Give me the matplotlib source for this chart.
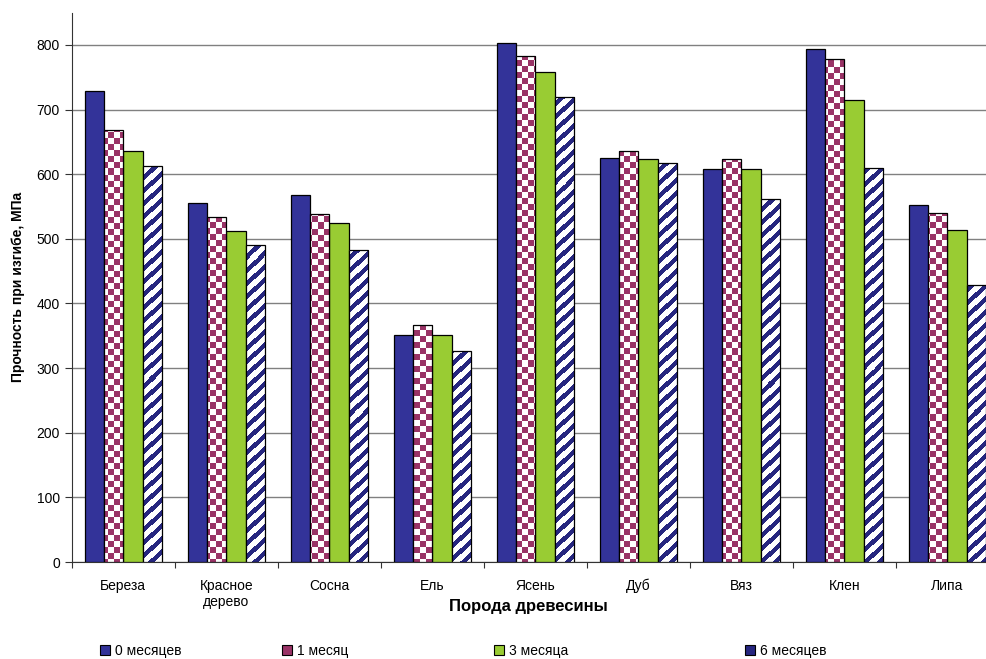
import numpy as np
import matplotlib
matplotlib.use("Agg")
import matplotlib.pyplot as plt
from matplotlib.patches import Patch

plt.rcParams['font.family'] = ['Liberation Sans', 'DejaVu Sans']

categories = ["Береза", "Красное\nдерево", "Сосна", "Ель", "Ясень", "Дуб", "Вяз", "Клен", "Липа"]
series_names = ["0 месяцев", "1 месяц", "3 месяца", "6 месяцев"]
m0 = [729, 555, 568, 351, 803, 625, 608, 794, 552]
m1 = [668, 534, 538, 367, 783, 636, 624, 778, 540]
m3 = [636, 512, 525, 351, 758, 624, 608, 715, 514]
m6 = [613, 490, 483, 326, 719, 617, 562, 610, 429]
series = [m0, m1, m3, m6]

W, H, DPI = 9.87, 6.59, 100
fig = plt.figure(figsize=(W, H), dpi=DPI)
ax_left_px, ax_right_px = 71.7, 71.7 + 9 * 103.0
ax_top_px, ax_bot_px = 12.6, 562.0
ax = fig.add_axes([ax_left_px / 987, 1 - ax_bot_px / 659,
                   (ax_right_px - ax_left_px) / 987, (ax_bot_px - ax_top_px) / 659])

ymax = 850
ax.set_xlim(0, len(categories))
ax.set_ylim(0, ymax)

blue = '#333399'
pink = '#993366'
green = '#99CC33'
navy = '#26267F'

# pattern images in axes pixel space
pw = int(round(ax_right_px - ax_left_px))
ph = int(round(ax_bot_px - ax_top_px))
ii, jj = np.mgrid[0:ph, 0:pw]
checker = (((ii // 6) + (jj // 6)) % 2 == 0)
stripes = (((ii + jj) % 13) < 6)

def pattern_rgba(mask, color):
    rgb = np.array(matplotlib.colors.to_rgb(color))
    img = np.ones((ph, pw, 3))
    img[mask] = rgb
    return img

checker_img = pattern_rgba(checker, pink)
stripe_img = pattern_rgba(stripes, navy)

bw = 0.1875
x = np.arange(len(categories)) + 0.5
offsets = [-1.5, -0.5, 0.5, 1.5]

ax.set_axisbelow(True)
ax.yaxis.grid(True, color='#808080', linewidth=1.0)

for k, vals in enumerate(series):
    if k == 0:
        ax.bar(x + offsets[k] * bw, vals, width=bw, color=blue, edgecolor='black', linewidth=0.9, zorder=3)
    elif k == 2:
        ax.bar(x + offsets[k] * bw, vals, width=bw, color=green, edgecolor='black', linewidth=0.9, zorder=3)
    else:
        img = checker_img if k == 1 else stripe_img
        bars = ax.bar(x + offsets[k] * bw, vals, width=bw, color='white', edgecolor='none', zorder=3)
        for b in bars:
            im = ax.imshow(img, extent=(0, len(categories), 0, ymax), aspect='auto',
                           interpolation='nearest', zorder=3.5)
            im.set_clip_path(b)
        ax.bar(x + offsets[k] * bw, vals, width=bw, color='none', edgecolor='black', linewidth=0.9, zorder=4)

ax.set_xlim(0, len(categories))
ax.set_ylim(0, ymax)

ax.set_yticks(np.arange(0, 801, 100))
ax.set_xticks(np.arange(0, len(categories) + 1), minor=False)
ax.set_xticklabels([])
ax.set_xticks(x, minor=True)
ax.set_xticklabels(categories, minor=True)
ax.tick_params(axis='x', which='minor', length=0, pad=12, labelsize=10)
ax.tick_params(axis='x', which='major', length=4, direction='out', color='#333333')
ax.tick_params(axis='y', length=5, direction='out', labelsize=10, color='#333333')

for s in ['top', 'right']:
    ax.spines[s].set_visible(False)
ax.spines['left'].set_color('#333333')
ax.spines['bottom'].set_color('#333333')

ax.set_ylabel("Прочность при изгибе, МПа", fontsize=10, fontweight='bold', labelpad=8)
fig.text(528 / 987, 1 - 607 / 659, "Порода древесины", fontsize=12, fontweight='bold',
         ha='center', va='center')

handles = [Patch(facecolor=blue, edgecolor='black', linewidth=0.8),
           Patch(facecolor=pink, edgecolor='black', linewidth=0.8),
           Patch(facecolor=green, edgecolor='black', linewidth=0.8),
           Patch(facecolor=navy, edgecolor='black', linewidth=0.8)]
leg_x = [100, 282, 494, 745]
for h, name, lx in zip(handles, series_names, leg_x):
    fig.legend([h], [name], loc='center left', bbox_to_anchor=(lx / 987, 1 - 651 / 659),
               frameon=False, fontsize=10, borderpad=0, borderaxespad=0,
               handlelength=0.7, handleheight=0.7, handletextpad=0.4)

fig.savefig("out.png", dpi=DPI)
